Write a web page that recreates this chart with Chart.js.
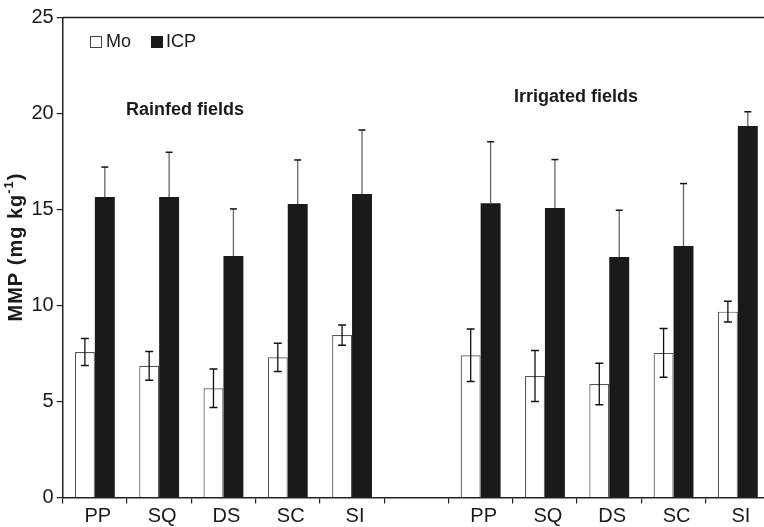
<!DOCTYPE html>
<html lang="en">
<head>
    <meta charset="UTF-8">
    <title>MMP by field type</title>
    <script src="https://cdn.jsdelivr.net/npm/chart.js"></script>
    <style>
        html, body { margin: 0; padding: 0; background: #fff; overflow: hidden; }
        #wrap { position: absolute; left: 0; top: 0; width: 780px; height: 527px; }
    </style>
</head>
<body>
    <div id="wrap"><canvas id="mmpChart" width="780" height="527"></canvas></div>

    <script>
        // Sites for rainfed fields, a spacer, then irrigated fields
        const categories = ['PP', 'SQ', 'DS', 'SC', 'SI', '', 'PP', 'SQ', 'DS', 'SC', 'SI'];

        // Mo method: means and standard deviations (mg/kg)
        const moMeans = [7.58, 6.86, 5.69, 7.30, 8.46, null, 7.41, 6.33, 5.91, 7.53, 9.68];
        const moSD    = [0.70, 0.75, 1.00, 0.74, 0.53, null, 1.37, 1.33, 1.08, 1.27, 0.54];

        // ICP method: means and standard deviations (mg/kg)
        const icpMeans = [15.65, 15.65, 12.58, 15.29, 15.81, null, 15.32, 15.08, 12.53, 13.10, 19.35];
        const icpSD    = [1.56, 2.33, 2.45, 2.29, 3.33, null, 3.21, 2.52, 2.43, 3.25, 0.74];

        const yTicks = [0, 5, 10, 15, 20, 25];

        const FONT = '"Liberation Sans", Arial, Helvetica, sans-serif';
        const INK = '#1a1a1a';

        // error bars: Mo gets both whiskers, ICP only the upper one
        const errorBars = {
            id: 'errorBars',
            afterDatasetsDraw(chart) {
                const ctx = chart.ctx;
                const y = chart.scales.y;
                const specs = [
                    { sd: moSD, means: moMeans, lower: true, line: '#111', cap: 4 },
                    { sd: icpSD, means: icpMeans, lower: false, line: '#666', cap: 3.5 }
                ];
                specs.forEach((s, di) => {
                    const meta = chart.getDatasetMeta(di);
                    meta.data.forEach((bar, i) => {
                        if (s.means[i] == null) return;
                        const x = bar.x;
                        const top = y.getPixelForValue(s.means[i] + s.sd[i]);
                        const bot = s.lower ? y.getPixelForValue(s.means[i] - s.sd[i]) : y.getPixelForValue(s.means[i]);
                        ctx.save();
                        ctx.lineWidth = 1.3;
                        ctx.strokeStyle = s.line;
                        ctx.beginPath();
                        ctx.moveTo(x, top);
                        ctx.lineTo(x, bot);
                        ctx.stroke();
                        ctx.strokeStyle = '#111';
                        ctx.lineWidth = 1.5;
                        ctx.beginPath();
                        ctx.moveTo(x - s.cap, top);
                        ctx.lineTo(x + s.cap, top);
                        if (s.lower) {
                            ctx.moveTo(x - s.cap, bot);
                            ctx.lineTo(x + s.cap, bot);
                        }
                        ctx.stroke();
                        ctx.restore();
                    });
                });
            }
        };

        // frame top line, legend, group captions and the y title
        const decorations = {
            id: 'decorations',
            afterDraw(chart) {
                const ctx = chart.ctx;
                const area = chart.chartArea;
                ctx.save();

                ctx.strokeStyle = '#222';
                ctx.lineWidth = 1.5;
                ctx.beginPath();
                ctx.moveTo(area.left, area.top);
                ctx.lineTo(area.right, area.top);
                ctx.stroke();

                // legend
                ctx.lineWidth = 1;
                ctx.strokeStyle = '#444';
                ctx.fillStyle = '#fff';
                ctx.fillRect(90, 36.5, 11, 11);
                ctx.strokeRect(90.5, 36.5, 11, 11);
                ctx.fillStyle = INK;
                ctx.fillRect(151, 36, 12, 12);
                ctx.font = '18px ' + FONT;
                ctx.textBaseline = 'middle';
                ctx.textAlign = 'left';
                ctx.fillText('Mo', 106, 42.5);
                ctx.fillText('ICP', 166, 42.5);

                // group captions
                ctx.font = 'bold 18px ' + FONT;
                ctx.textAlign = 'center';
                ctx.fillText('Rainfed fields', 185, 110);
                ctx.fillText('Irrigated fields', 576, 97);

                // y title with superscript
                ctx.translate(16, 247);
                ctx.rotate(-Math.PI / 2);
                ctx.letterSpacing = '1px';
                const main = 'MMP (mg kg';
                const sup = '-1';
                const tail = ')';
                ctx.font = 'bold 20px ' + FONT;
                const wMain = ctx.measureText(main).width;
                const wTail = ctx.measureText(tail).width;
                ctx.font = 'bold 13px ' + FONT;
                const wSup = ctx.measureText(sup).width;
                let x = -(wMain + wSup + wTail) / 2;
                ctx.textAlign = 'left';
                ctx.textBaseline = 'middle';
                ctx.font = 'bold 20px ' + FONT;
                ctx.fillText(main, x, 0);
                x += wMain;
                ctx.font = 'bold 13px ' + FONT;
                ctx.fillText(sup, x, -7);
                x += wSup;
                ctx.font = 'bold 20px ' + FONT;
                ctx.fillText(tail, x, 0);

                ctx.restore();
            }
        };

        const ctx = document.getElementById('mmpChart').getContext('2d');
        const mmpChart = new Chart(ctx, {
            type: 'bar',
            data: {
                labels: categories,
                datasets: [{
                    label: 'Mo',
                    data: moMeans,
                    backgroundColor: '#ffffff',
                    borderColor: '#555',
                    borderWidth: { top: 1.2, left: 1.2, right: 1.2, bottom: 0 },
                    categoryPercentage: 0.62,
                    barPercentage: 1.0
                }, {
                    label: 'ICP',
                    data: icpMeans,
                    backgroundColor: INK,
                    borderWidth: 0,
                    categoryPercentage: 0.62,
                    barPercentage: 1.0
                }]
            },
            options: {
                responsive: false,
                animation: false,
                layout: { padding: { left: 0, right: 10, top: 17.5, bottom: 0 } },
                plugins: {
                    legend: { display: false },
                    tooltip: { enabled: false }
                },
                scales: {
                    x: {
                        afterFit: (scale) => { scale.height = 29.5; },
                        grid: {
                            offset: true,
                            drawOnChartArea: false,
                            drawTicks: true,
                            tickLength: 6,
                            color: '#222',
                            lineWidth: 1.2
                        },
                        border: { color: '#222', width: 1.5 },
                        ticks: {
                            color: INK,
                            font: { family: FONT, size: 20 },
                            padding: 1,
                            labelOffset: 3,
                            maxRotation: 0,
                            autoSkip: false
                        }
                    },
                    y: {
                        min: 0,
                        max: 25,
                        afterFit: (scale) => { scale.width = 62.7; },
                        afterBuildTicks: (scale) => { scale.ticks = yTicks.map(v => ({ value: v })); },
                        grid: {
                            drawOnChartArea: false,
                            drawTicks: true,
                            tickLength: 6,
                            color: '#222',
                            lineWidth: 1.2
                        },
                        border: { color: '#222', width: 1.5 },
                        ticks: {
                            color: INK,
                            font: { family: FONT, size: 20 },
                            padding: 3
                        }
                    }
                }
            },
            plugins: [errorBars, decorations]
        });
    </script>
</body>
</html>
